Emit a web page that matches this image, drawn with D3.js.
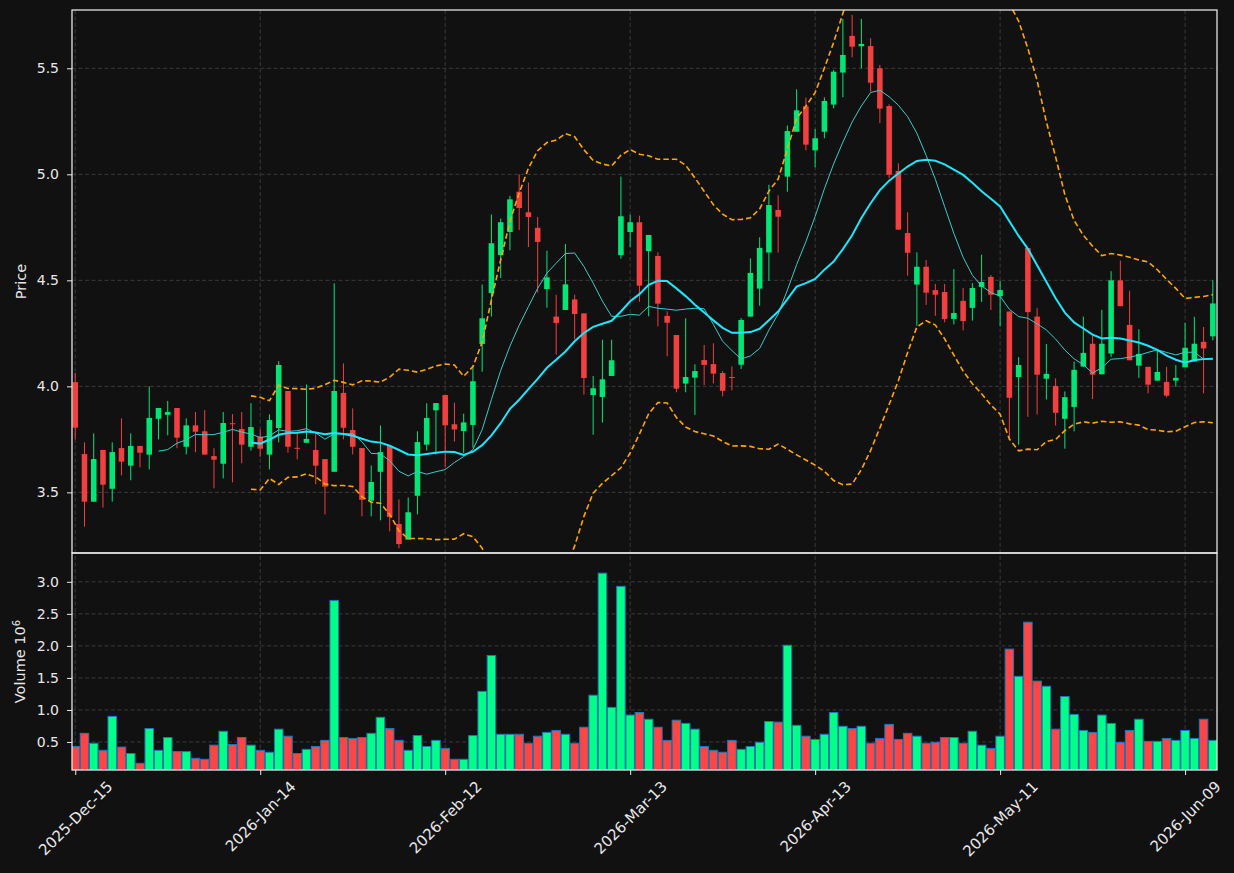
<!DOCTYPE html>
<html>
<head>
<meta charset="utf-8">
<script src="https://cdn.jsdelivr.net/npm/d3@7"></script>
<style>
  body { margin: 0; background: #111111; }
  svg { display: block; }
  text { font-family: "DejaVu Sans", sans-serif; fill: #e8e8e8; }
</style>
</head>
<body>
<div id="chart"></div>
<script>
// OHLC + volume, one entry per trading day (volume in millions)
const opens = [4.020,3.681,3.456,3.700,3.517,3.709,3.626,3.719,3.678,3.847,
  3.866,3.898,3.715,3.816,3.788,3.671,3.635,3.826,3.799,3.715,
  3.763,3.678,3.803,3.978,3.710,3.734,3.700,3.657,3.597,3.969,
  3.794,3.709,3.461,3.597,3.719,3.351,3.277,3.484,3.725,3.887,
  3.959,3.821,3.789,3.818,4.200,4.440,4.619,4.728,4.918,4.821,
  4.748,4.459,4.329,4.360,4.410,4.344,3.959,3.950,4.049,4.619,
  4.728,4.774,4.638,4.615,4.332,4.242,4.013,4.041,4.124,4.105,
  4.063,4.044,4.102,4.329,4.461,4.631,4.832,4.989,5.201,5.321,
  5.113,5.201,5.329,5.480,5.653,5.604,5.605,5.500,5.322,5.016,
  4.723,4.480,4.564,4.454,4.445,4.318,4.403,4.370,4.469,4.516,
  4.425,4.353,4.044,4.652,4.329,4.036,4.002,3.847,3.903,4.093,
  4.201,4.057,4.155,4.500,4.290,4.098,4.092,4.027,4.021,4.027,
  4.090,4.117,4.210,4.236];
const highs = [4.064,3.736,3.778,3.700,3.736,3.849,3.778,3.719,4.000,3.898,
  3.931,3.898,3.849,3.879,3.888,3.708,3.879,3.869,3.879,3.921,
  3.797,3.868,4.119,3.978,3.781,4.009,3.778,3.657,4.486,4.108,
  3.896,3.709,3.627,3.816,3.719,3.467,3.476,3.788,3.920,3.921,
  3.959,3.923,3.871,4.099,4.480,4.810,4.791,4.898,5.000,4.961,
  4.799,4.640,4.432,4.671,4.432,4.344,4.049,4.220,4.220,4.989,
  4.810,4.805,4.714,4.632,4.354,4.242,4.321,4.104,4.195,4.203,
  4.072,4.094,4.322,4.604,4.703,4.951,4.901,5.230,5.401,5.362,
  5.214,5.363,5.492,5.733,5.752,5.733,5.642,5.516,5.330,5.052,
  4.821,4.632,4.596,4.483,4.483,4.553,4.464,4.487,4.621,4.525,
  4.498,4.353,4.138,4.652,4.370,4.200,4.038,3.976,4.117,4.329,
  4.242,4.361,4.543,4.593,4.451,4.269,4.092,4.168,4.092,4.100,
  4.299,4.328,4.280,4.500];
const lows = [3.750,3.338,3.456,3.428,3.456,3.580,3.557,3.618,3.608,3.750,
  3.769,3.708,3.679,3.689,3.678,3.519,3.566,3.547,3.637,3.697,
  3.668,3.608,3.736,3.687,3.656,3.734,3.538,3.396,3.597,3.750,
  3.679,3.387,3.387,3.368,3.316,3.236,3.277,3.396,3.698,3.679,
  3.621,3.739,3.686,3.711,4.069,4.329,4.511,4.642,4.737,4.657,
  4.442,4.371,4.149,4.360,4.222,3.961,3.772,3.829,4.049,4.602,
  4.657,4.399,4.330,4.283,4.142,3.972,3.972,3.865,4.006,4.014,
  3.953,3.981,4.082,4.329,4.380,4.498,4.631,4.918,5.201,5.113,
  5.033,5.170,5.311,5.363,5.552,5.500,5.390,5.241,4.983,4.739,
  4.522,4.286,4.384,4.333,4.302,4.292,4.264,4.310,4.398,4.360,
  4.283,3.748,3.725,3.856,3.867,3.938,3.815,3.706,3.788,4.093,
  3.940,4.057,4.139,4.378,4.123,4.040,3.967,4.027,3.948,3.998,
  4.090,4.117,3.967,4.217];
const closes = [3.805,3.456,3.657,3.536,3.690,3.645,3.719,3.687,3.851,3.898,
  3.879,3.758,3.816,3.786,3.678,3.654,3.827,3.822,3.725,3.808,
  3.706,3.841,4.101,3.715,3.707,3.752,3.626,3.527,3.978,3.805,
  3.715,3.465,3.549,3.690,3.384,3.256,3.406,3.737,3.851,3.921,
  3.816,3.797,3.830,4.024,4.321,4.675,4.774,4.882,4.841,4.799,
  4.681,4.514,4.299,4.481,4.341,4.039,3.991,4.033,4.123,4.802,
  4.774,4.475,4.714,4.390,4.300,3.989,4.044,4.072,4.101,4.060,
  3.979,4.041,4.313,4.535,4.653,4.855,4.800,5.204,5.302,5.140,
  5.170,5.346,5.484,5.563,5.602,5.615,5.432,5.310,4.998,4.739,
  4.630,4.564,4.442,4.432,4.318,4.346,4.308,4.464,4.492,4.432,
  4.454,3.946,4.101,4.350,4.055,4.059,3.875,3.949,4.078,4.158,
  4.055,4.201,4.500,4.378,4.123,4.153,4.008,4.068,3.956,4.040,
  4.182,4.201,4.179,4.391];
const volumes = [0.43,0.635,0.48,0.37,0.90,0.42,0.32,0.167,0.71,0.37,
  0.57,0.35,0.35,0.245,0.23,0.45,0.667,0.46,0.57,0.45,
  0.37,0.34,0.70,0.59,0.32,0.385,0.43,0.525,2.71,0.57,
  0.555,0.57,0.635,0.885,0.71,0.525,0.37,0.60,0.43,0.525,
  0.40,0.23,0.23,0.60,1.29,1.85,0.62,0.62,0.62,0.48,
  0.59,0.65,0.68,0.62,0.48,0.73,1.23,3.135,1.04,2.93,
  0.92,0.96,0.855,0.73,0.525,0.84,0.79,0.70,0.43,0.37,
  0.34,0.525,0.385,0.43,0.495,0.82,0.81,2.01,0.76,0.59,
  0.54,0.62,0.96,0.745,0.71,0.745,0.48,0.555,0.775,0.54,
  0.635,0.59,0.48,0.495,0.57,0.57,0.48,0.667,0.45,0.40,
  0.59,1.95,1.525,2.37,1.45,1.37,0.70,1.21,0.93,0.68,
  0.65,0.92,0.79,0.495,0.68,0.855,0.51,0.51,0.555,0.525,
  0.68,0.555,0.855,0.525];

// x tick labels, one every 20 sessions
const tickIndex = [0, 20, 40, 60, 80, 100, 120];
const tickLabels = ['2025-Dec-15','2026-Jan-14','2026-Feb-12','2026-Mar-13','2026-Apr-13','2026-May-11','2026-Jun-09'];
const priceTicks = [3.5, 4.0, 4.5, 5.0, 5.5];
const volumeTicks = [0.5, 1.0, 1.5, 2.0, 2.5, 3.0];

const width = 1234, height = 873;
const left = 72, right = 1217;
const price = {top: 10, bottom: 553};
const vol = {top: 553, bottom: 770};

const upColor = '#00e676', downColor = '#f23f3f';
const volUp = '#00ff88', volDown = '#ff4545';
const gridColor = '#3a3a3a';
const textColor = '#ececec';

const n = closes.length;
const bars = d3.range(n).map(i => ({
  i, o: opens[i], h: highs[i], l: lows[i], c: closes[i], v: volumes[i]
}));

// rolling indicators (MA10, MA20, Bollinger 20 / 2 sigma)
function rolling(win, fn) {
  return bars.map((d, i) => i < win - 1 ? null : fn(closes.slice(i - win + 1, i + 1)));
}
const ma10 = rolling(10, d3.mean);
const ma20 = rolling(20, d3.mean);
const sd20 = rolling(20, w => d3.deviation(w) * Math.sqrt((w.length - 1) / w.length));
const bbUp = ma20.map((m, i) => m == null ? null : m + 2 * sd20[i]);
const bbLo = ma20.map((m, i) => m == null ? null : m - 2 * sd20[i]);

const x = d3.scaleLinear().domain([-0.35, n - 0.55]).range([left, right]);
const step = x(1) - x(0);
const yP = d3.scaleLinear().domain([3.214, 5.775]).range([price.bottom, price.top]);
const yV = d3.scaleLinear().domain([0.0625, 3.45]).range([vol.bottom, vol.top]);

const svg = d3.select('#chart').append('svg')
  .attr('width', width).attr('height', height);
svg.append('rect').attr('width', width).attr('height', height).attr('fill', '#111111');

const defs = svg.append('defs');
defs.append('clipPath').attr('id', 'clipP').append('rect')
  .attr('x', left).attr('y', price.top).attr('width', right - left).attr('height', price.bottom - price.top);
defs.append('clipPath').attr('id', 'clipV').append('rect')
  .attr('x', left).attr('y', vol.top).attr('width', right - left).attr('height', vol.bottom - vol.top);

// grid
const grid = svg.append('g')
  .attr('stroke', gridColor).attr('stroke-width', 1).attr('stroke-dasharray', '4,2.5');
grid.selectAll('.gx').data(tickIndex).join('line')
  .attr('x1', d => x(d)).attr('x2', d => x(d))
  .attr('y1', price.top).attr('y2', vol.bottom);
grid.selectAll('.gp').data(priceTicks).join('line')
  .attr('x1', left).attr('x2', right)
  .attr('y1', d => yP(d)).attr('y2', d => yP(d));
grid.selectAll('.gv').data(volumeTicks).join('line')
  .attr('x1', left).attr('x2', right)
  .attr('y1', d => yV(d)).attr('y2', d => yV(d));

// candles
const candles = svg.append('g').attr('clip-path', 'url(#clipP)');
const bodyW = step * 0.6;
candles.selectAll('line.wick').data(bars).join('line')
  .attr('class', 'wick')
  .attr('x1', d => x(d.i)).attr('x2', d => x(d.i))
  .attr('y1', d => yP(d.h)).attr('y2', d => yP(d.l))
  .attr('stroke', d => d.c >= d.o ? upColor : downColor)
  .attr('stroke-width', 1);
candles.selectAll('rect.body').data(bars).join('rect')
  .attr('class', 'body')
  .attr('x', d => x(d.i) - bodyW / 2)
  .attr('width', bodyW)
  .attr('y', d => yP(Math.max(d.o, d.c)))
  .attr('height', d => Math.max(1, Math.abs(yP(d.o) - yP(d.c))))
  .attr('fill', d => d.c >= d.o ? upColor : downColor);

// moving averages and bands
const lineGen = arr => d3.line()
  .defined(i => arr[i] != null)
  .x(i => x(i)).y(i => yP(arr[i]))(d3.range(n));
const lines = svg.append('g').attr('clip-path', 'url(#clipP)').attr('fill', 'none');
lines.append('path').attr('d', lineGen(bbUp))
  .attr('stroke', '#ffa500').attr('stroke-width', 1.6).attr('stroke-dasharray', '5.5,3');
lines.append('path').attr('d', lineGen(bbLo))
  .attr('stroke', '#ffa500').attr('stroke-width', 1.6).attr('stroke-dasharray', '5.5,3');
lines.append('path').attr('d', lineGen(ma10))
  .attr('stroke', '#3fc9c9').attr('stroke-width', 1);
lines.append('path').attr('d', lineGen(ma20))
  .attr('stroke', '#1ee6ff').attr('stroke-width', 2);

// volume bars
const volG = svg.append('g').attr('clip-path', 'url(#clipV)');
const volW = step * 0.92;
volG.selectAll('rect').data(bars).join('rect')
  .attr('x', d => x(d.i) - volW / 2)
  .attr('width', volW)
  .attr('y', d => yV(d.v))
  .attr('height', d => vol.bottom - yV(d.v))
  .attr('fill', d => d.c >= d.o ? volUp : volDown)
  .attr('stroke', '#1f77b4').attr('stroke-width', 1);

// axes
const yAxisP = svg.append('g').attr('transform', `translate(${left},0)`)
  .call(d3.axisLeft(yP).tickValues(priceTicks).tickFormat(d3.format('.1f')).tickSize(5).tickPadding(8));
const yAxisV = svg.append('g').attr('transform', `translate(${left},0)`)
  .call(d3.axisLeft(yV).tickValues(volumeTicks).tickFormat(d3.format('.1f')).tickSize(5).tickPadding(8));
const xAxis = svg.append('g').attr('transform', `translate(0,${vol.bottom})`)
  .call(d3.axisBottom(x).tickValues(tickIndex).tickFormat((d, i) => tickLabels[i]).tickSize(5));

[yAxisP, yAxisV, xAxis].forEach(a => {
  a.select('.domain').remove();
  a.selectAll('line').attr('stroke', textColor);
  a.selectAll('text').style('font-size', '14px').attr('fill', textColor);
});

// rotated date labels: bounding box centred under the tick, top just below it
xAxis.selectAll('text')
  .style('font-size', '15px')
  .attr('x', 0).attr('y', 0).attr('dy', null)
  .attr('text-anchor', 'middle')
  .attr('dominant-baseline', 'central')
  .attr('transform', function() {
    const len = this.getComputedTextLength();
    const half = (len + 14) * Math.SQRT1_2 / 2;
    return `translate(0,${9 + half}) rotate(-45)`;
  });

// panel frames
svg.append('rect').attr('x', left).attr('y', price.top)
  .attr('width', right - left).attr('height', price.bottom - price.top)
  .attr('fill', 'none').attr('stroke', '#f5f5f5').attr('stroke-width', 1.2);
svg.append('rect').attr('x', left).attr('y', vol.top)
  .attr('width', right - left).attr('height', vol.bottom - vol.top)
  .attr('fill', 'none').attr('stroke', '#f5f5f5').attr('stroke-width', 1.2);

// axis titles
svg.append('text')
  .attr('transform', `translate(26,${(price.top + price.bottom) / 2}) rotate(-90)`)
  .attr('text-anchor', 'middle').style('font-size', '14.5px')
  .text('Price');
const vLabel = svg.append('text')
  .attr('transform', `translate(25,${(vol.top + vol.bottom) / 2}) rotate(-90)`)
  .attr('text-anchor', 'middle').style('font-size', '14.5px');
vLabel.append('tspan').text('Volume  10');
vLabel.append('tspan').attr('baseline-shift', 'super').style('font-size', '10px').text('6');
</script>
</body>
</html>
